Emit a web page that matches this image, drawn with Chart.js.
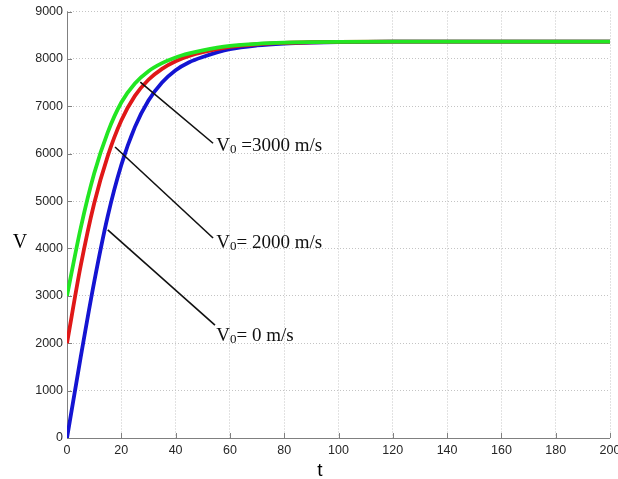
<!DOCTYPE html>
<html>
<head>
<meta charset="utf-8">
<script src="https://cdn.jsdelivr.net/npm/chart.js@4.4.1/dist/chart.umd.min.js"></script>
<style>
    html, body { margin: 0; padding: 0; background: #fff; }
    #Chart_V { display: block; }
</style>
</head>
<body>
<canvas id="Chart_V" width="618" height="479"></canvas>
<script>
// dữ liệu
const T = [0, 5, 10, 15, 20, 25, 30, 35, 40, 45, 50, 60, 70, 80, 90, 100, 120, 140, 160, 180, 200];
const V_0 = [0, 1690, 3290, 4680, 5760, 6560, 7120, 7500, 7760, 7930, 8040, 8205, 8285, 8325, 8345, 8355, 8363, 8365, 8365, 8365, 8365];
const V_2000 = [2000, 3620, 4950, 5950, 6700, 7220, 7560, 7790, 7950, 8060, 8140, 8253, 8309, 8337, 8351, 8358, 8363, 8365, 8365, 8365, 8365];
const V_3000 = [3000, 4420, 5580, 6450, 7080, 7480, 7740, 7910, 8030, 8115, 8180, 8273, 8319, 8342, 8353, 8359, 8364, 8365, 8365, 8365, 8365];

const xTicks = [0, 20, 40, 60, 80, 100, 120, 140, 160, 180, 200];
const yTicks = [0, 1000, 2000, 3000, 4000, 5000, 6000, 7000, 8000, 9000];

// nhãn chú thích: V0 ... (vị trí theo toạ độ dữ liệu)
const noteText = [' =3000 m/s', '= 2000 m/s', '= 0 m/s'];
const noteFrom = [[27, 7510], [17.7, 6140], [15, 4390]];
const noteTo = [[53.8, 6220], [53.8, 4220], [54.5, 2380]];
const noteAt = [[55, 6055], [55, 4010], [55, 2046]];

function toPts(ys) {
    return T.map(function (t, i) {
        return { x: t, y: ys[i] };
    });
}

// plugin vẽ trục, vạch chia và chú thích
const plotFrame = {
    id: 'plot_frame',
    beforeDatasetsDraw: (chart) => {
        const ctx = chart.ctx;
        const a = chart.chartArea;
        const sx = chart.scales.x, sy = chart.scales.y;
        ctx.save();
        ctx.strokeStyle = '#808080';
        ctx.lineWidth = 1;
        ctx.beginPath();
        ctx.moveTo(a.left + 0.5, a.top);
        ctx.lineTo(a.left + 0.5, a.bottom + 0.5);
        ctx.lineTo(a.right, a.bottom + 0.5);
        yTicks.forEach(function (v) {
            const y = Math.round(sy.getPixelForValue(v)) + 0.5;
            ctx.moveTo(a.left, y);
            ctx.lineTo(a.left + 5, y);
        });
        xTicks.forEach(function (v) {
            const x = Math.round(sx.getPixelForValue(v)) + 0.5;
            ctx.moveTo(x, a.bottom);
            ctx.lineTo(x, a.bottom - 5);
        });
        ctx.stroke();
        ctx.restore();
    },
    afterDatasetsDraw: (chart) => {
        const ctx = chart.ctx;
        const sx = chart.scales.x, sy = chart.scales.y;
        ctx.save();
        ctx.strokeStyle = '#111';
        ctx.lineWidth = 1.6;
        ctx.fillStyle = '#111';
        for (let i = 0; i < noteText.length; i++) {
            ctx.beginPath();
            ctx.moveTo(sx.getPixelForValue(noteFrom[i][0]), sy.getPixelForValue(noteFrom[i][1]));
            ctx.lineTo(sx.getPixelForValue(noteTo[i][0]), sy.getPixelForValue(noteTo[i][1]));
            ctx.stroke();
            let x = sx.getPixelForValue(noteAt[i][0]);
            const y = sy.getPixelForValue(noteAt[i][1]);
            ctx.textBaseline = 'alphabetic';
            ctx.textAlign = 'left';
            ctx.font = '19px "Liberation Serif", "Times New Roman", serif';
            ctx.fillText('V', x, y);
            x += ctx.measureText('V').width;
            ctx.font = '13px "Liberation Serif", "Times New Roman", serif';
            ctx.fillText('0', x, y + 2);
            x += ctx.measureText('0').width;
            ctx.font = '19px "Liberation Serif", "Times New Roman", serif';
            ctx.fillText(noteText[i], x, y);
        }
        // tên trục
        ctx.fillStyle = '#000';
        ctx.font = '20px "Liberation Serif", "Times New Roman", serif';
        ctx.textAlign = 'center';
        ctx.fillText('V', 20, 248);
        ctx.font = '19px "Liberation Sans", Arial, sans-serif';
        ctx.fillText('t', 320, 476);
        ctx.restore();
    }
};

const tickFont = { family: '"Liberation Sans", Arial, sans-serif', size: 12.5 };

new Chart(document.getElementById('Chart_V'), {
    type: 'line',
    data: {
        datasets: [{
            label: 'V0 = 3000 m/s',
            data: toPts(V_3000),
            borderColor: '#22e622',
            borderWidth: 3.8
        }, {
            label: 'V0 = 2000 m/s',
            data: toPts(V_2000),
            borderColor: '#e01818',
            borderWidth: 3.8
        }, {
            label: 'V0 = 0 m/s',
            data: toPts(V_0),
            borderColor: '#1414d2',
            borderWidth: 3.8
        }]
    },
    options: {
        responsive: false,
        animation: false,
        elements: {
            point: { radius: 0 },
            line: { cubicInterpolationMode: 'monotone', fill: false }
        },
        layout: {
            padding: { left: 0, right: 8, top: 11, bottom: 0 }
        },
        plugins: {
            legend: { display: false },
            tooltip: { enabled: false }
        },
        scales: {
            x: {
                type: 'linear',
                min: 0,
                max: 200,
                afterBuildTicks: (s) => { s.ticks = xTicks.map(v => ({ value: v })); },
                afterFit: (s) => { s.height = 41; s.paddingLeft = 0; s.paddingRight = 0; },
                grid: { color: '#c4c4c4', drawTicks: false },
                border: { display: false, dash: [1, 2] },
                ticks: { color: '#262626', font: tickFont, padding: 5, maxRotation: 0, callback: (v) => String(v) }
            },
            y: {
                min: 0,
                max: 9000,
                afterBuildTicks: (s) => { s.ticks = yTicks.map(v => ({ value: v })); },
                afterFit: (s) => { s.width = 67; },
                grid: { color: '#c4c4c4', drawTicks: false },
                border: { display: false, dash: [1, 2] },
                ticks: { color: '#262626', font: tickFont, padding: 4, callback: (v) => String(v) }
            }
        }
    },
    plugins: [plotFrame]
});
</script>
</body>
</html>
